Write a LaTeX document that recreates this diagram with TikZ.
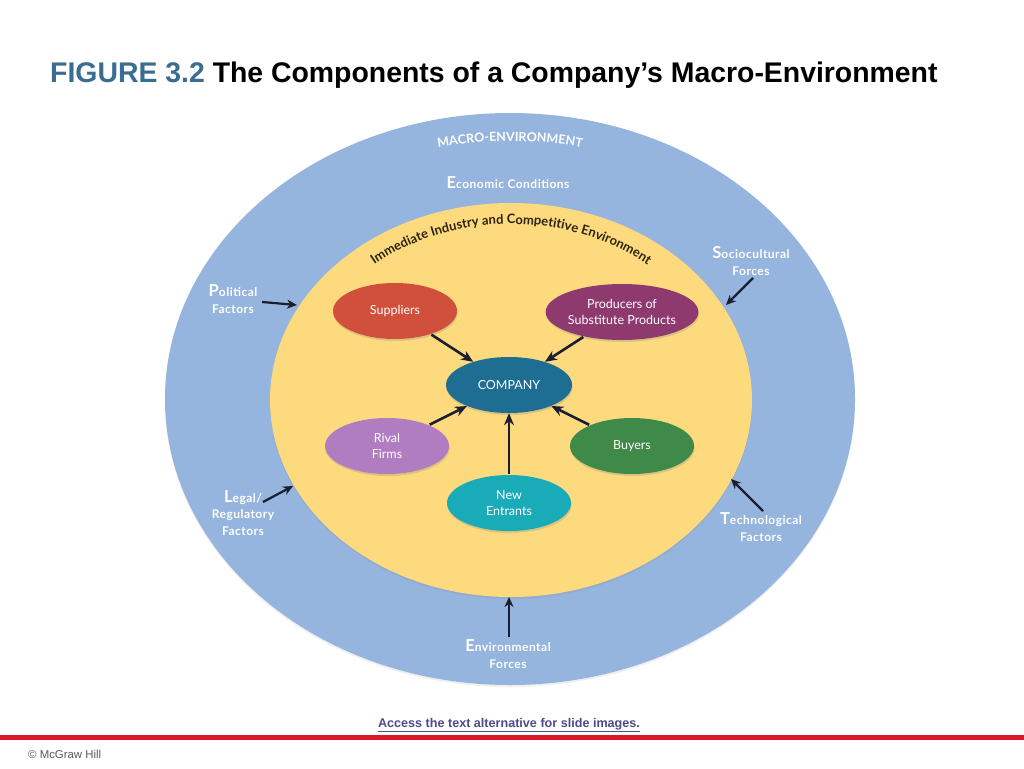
\documentclass[tikz,border=0pt]{standalone}
\usepackage{fontspec}
\setmainfont{Liberation Sans}
\newfontfamily\lato{Lato}
\newfontfamily\latowide{Lato}[LetterSpace=4]
\usetikzlibrary{shapes.geometric,decorations.text,shadows,arrows.meta}
\definecolor{figblue}{HTML}{3A6E91}
\definecolor{macroblue}{HTML}{95B4DE}
\definecolor{indyellow}{HTML}{FCDA7D}
\definecolor{darktext}{HTML}{2E2410}
\definecolor{arrowcol}{HTML}{1B1E30}
\definecolor{supcol}{HTML}{D1503B}
\definecolor{procol}{HTML}{8E3A6F}
\definecolor{compcol}{HTML}{1D6E92}
\definecolor{rivcol}{HTML}{B07DC1}
\definecolor{buycol}{HTML}{3F8A48}
\definecolor{newcol}{HTML}{1AABB8}
\definecolor{linkcol}{HTML}{4E4A8E}
\definecolor{redline}{HTML}{DA1A2B}
\newcommand\capl[1]{{\fontsize{16.5}{16}\selectfont #1}}
\tikzset{
  actor/.style={ellipse, minimum width=124pt, minimum height=56pt, inner sep=0pt,
    text=white, align=center, font=\lato\fontsize{12.5}{16}\selectfont,
    drop shadow={shadow xshift=0.6pt, shadow yshift=-2pt, opacity=0.25}},
  ringlabel/.style={text=white, align=center, inner sep=0pt,
    font=\latowide\bfseries\fontsize{12}{16.5}\selectfont},
  ringarrow/.style={draw=arrowcol, line width=2.2pt, -{Stealth[length=10pt,width=9pt]}},
  inarrow/.style={draw=arrowcol, line width=2.6pt, -{Stealth[length=12pt,width=10pt]}, shorten >=0pt, shorten <=1pt},
}
\begin{document}
\begin{tikzpicture}[x=1pt,y=-1pt]
\useasboundingbox (0,0) rectangle (1024,768);
\fill[white] (0,0) rectangle (1024,768);

% title
\node[anchor=base west, inner sep=0pt, font=\bfseries\fontsize{28.4}{32}\selectfont] (title) at (50,82)
  {\textcolor{figblue}{FIGURE 3.2} The Components of a Company’s Macro-Environment};

% environments
\node[ellipse, minimum width=690pt, minimum height=572pt, fill=macroblue, inner sep=0pt,
  drop shadow={shadow xshift=0pt, shadow yshift=-2pt, opacity=0.12}] (macro) at (510,399) {};
\node[ellipse, minimum width=482pt, minimum height=394pt, fill=indyellow, inner sep=0pt,
  drop shadow={shadow xshift=0pt, shadow yshift=-2pt, opacity=0.15}] (ind) at (511,400) {};

% curved titles
\path[decorate, decoration={text along path, text align=center,
  text={|\latowide\bfseries\fontsize{12.5}{12}\selectfont\color{white}|MACRO-ENVIRONMENT}}]
  (510,399) ++(248:320 and 258) arc[start angle=248, end angle=292, x radius=320, y radius=258];
\path[decorate, decoration={text along path, text align=center,
  text={|\lato\bfseries\fontsize{13}{13}\selectfont\color{darktext}|Immediate Industry and Competitive Environment}}]
  (511,400) ++(218:213 and 176) arc[start angle=218, end angle=322, x radius=213, y radius=176];

% ring labels
\node[ringlabel] (econ) at (508,183) {\capl{E}conomic Conditions};
\node[ringlabel] (pol) at (233,299) {\capl{P}olitical\\Factors};
\node[ringlabel] (soc) at (751,261) {\capl{S}ociocultural\\Forces};
\node[ringlabel] (leg) at (243,513) {\capl{L}egal/\\Regulatory\\Factors};
\node[ringlabel] (tech) at (761,527) {\capl{T}echnological\\Factors};
\node[ringlabel] (envf) at (508,654) {\capl{E}nvironmental\\Forces};

% ring arrows
\coordinate (polA) at (262,302);  \coordinate (polB) at (297,305);
\coordinate (socA) at (753,278);  \coordinate (socB) at (726,305);
\coordinate (legA) at (263,502);  \coordinate (legB) at (293,486);
\coordinate (techA) at (763,511); \coordinate (techB) at (731,479);
\coordinate (envA) at (509,637);  \coordinate (envB) at (509,597);
\draw[ringarrow] (polA) -- (polB);
\draw[ringarrow] (socA) -- (socB);
\draw[ringarrow] (legA) -- (legB);
\draw[ringarrow] (techA) -- (techB);
\draw[ringarrow] (envA) -- (envB);

% actors
\node[actor, fill=supcol] (sup) at (395,311) {Suppliers};
\node[actor, fill=procol] (pro) at (622,312) {Producers of\\Substitute Products};
\node[actor, fill=compcol, minimum width=126pt] (comp) at (509,385) {COMPANY};
\node[actor, fill=rivcol] (riv) at (387,446) {Rival\\Firms};
\node[actor, fill=buycol] (buy) at (632,446) {Buyers};
\node[actor, fill=newcol] (new) at (509,503) {New\\Entrants};

\draw[inarrow] (sup) -- (comp);
\draw[inarrow] (pro) -- (comp);
\draw[inarrow] (riv) -- (comp);
\draw[inarrow] (buy) -- (comp);
\draw[inarrow] (new) -- (comp);

% footer
\node[anchor=base, inner sep=0pt, text=linkcol, font=\bfseries\fontsize{12.6}{14}\selectfont] (link) at (509,727)
  {\underline{Access the text alternative for slide images.}};
\fill[redline] (0,734.5) rectangle (1024,739.5);
\node[anchor=base west, inner sep=0pt, text=black!65, font=\fontsize{11.4}{13}\selectfont] (copy) at (28,758)
  {© McGraw Hill};
\end{tikzpicture}
\end{document}
